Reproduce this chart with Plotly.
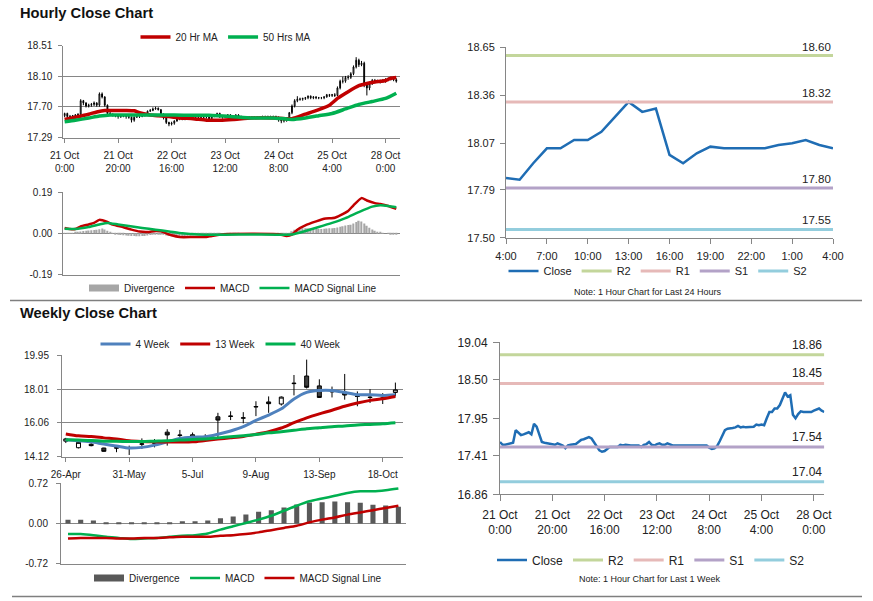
import plotly.graph_objects as go

# ---------------- hourly data: 21 Oct 0:00 .. 28 Oct 4:00 (125 bars) ----------------
hourly_close = [
    17.61, 17.57, 17.57, 17.58, 17.59, 17.60, 17.78, 17.75, 17.71, 17.72,
    17.73, 17.75, 17.72, 17.87, 17.83, 17.72, 17.61, 17.60, 17.59, 17.58,
    17.57, 17.57, 17.59, 17.57, 17.56, 17.52, 17.56, 17.57, 17.57, 17.58,
    17.61, 17.64, 17.65, 17.67, 17.68, 17.66, 17.60, 17.55, 17.49, 17.47,
    17.48, 17.51, 17.54, 17.54, 17.54, 17.54, 17.57, 17.56, 17.57, 17.56,
    17.56, 17.56, 17.56, 17.56, 17.54, 17.57, 17.58, 17.61, 17.57, 17.56,
    17.58, 17.59, 17.57, 17.57, 17.59, 17.57, 17.56, 17.56, 17.56, 17.56,
    17.56, 17.56, 17.56, 17.56, 17.57, 17.56, 17.57, 17.56, 17.57, 17.56,
    17.53, 17.51, 17.52, 17.55, 17.62, 17.71, 17.78, 17.80, 17.80, 17.81,
    17.82, 17.84, 17.82, 17.83, 17.82, 17.82, 17.82, 17.83, 17.86, 17.85,
    17.86, 17.85, 17.95, 18.04, 18.04, 18.09, 18.09, 18.14, 18.23, 18.32,
    18.26, 18.28, 18.00, 17.95, 18.01, 18.05, 18.04, 18.04, 18.04, 18.04,
    18.06, 18.07, 18.09, 18.06, 18.04,
]
hourly_open = [
    17.58, 17.61, 17.57, 17.57, 17.58, 17.59, 17.60, 17.78, 17.75, 17.71,
    17.72, 17.73, 17.75, 17.72, 17.87, 17.83, 17.72, 17.61, 17.60, 17.59,
    17.58, 17.57, 17.57, 17.59, 17.57, 17.56, 17.52, 17.56, 17.57, 17.57,
    17.58, 17.61, 17.64, 17.65, 17.67, 17.68, 17.66, 17.60, 17.55, 17.49,
    17.47, 17.48, 17.51, 17.54, 17.54, 17.54, 17.54, 17.57, 17.56, 17.57,
    17.56, 17.56, 17.56, 17.56, 17.56, 17.54, 17.57, 17.58, 17.61, 17.57,
    17.56, 17.58, 17.59, 17.57, 17.57, 17.59, 17.57, 17.56, 17.56, 17.56,
    17.56, 17.56, 17.56, 17.56, 17.56, 17.57, 17.56, 17.57, 17.56, 17.57,
    17.56, 17.53, 17.51, 17.52, 17.55, 17.62, 17.71, 17.78, 17.80, 17.80,
    17.81, 17.82, 17.84, 17.82, 17.83, 17.82, 17.82, 17.82, 17.83, 17.86,
    17.85, 17.86, 17.85, 17.95, 18.04, 18.04, 18.09, 18.09, 18.14, 18.23,
    18.32, 18.26, 18.28, 18.00, 17.95, 18.01, 18.05, 18.04, 18.04, 18.04,
    18.04, 18.06, 18.07, 18.09, 18.06,
]
hourly_high = [
    17.62, 17.62, 17.59, 17.59, 17.60, 17.61, 17.80, 17.79, 17.76, 17.74,
    17.75, 17.77, 17.76, 17.89, 17.89, 17.84, 17.73, 17.63, 17.61, 17.60,
    17.59, 17.59, 17.60, 17.60, 17.58, 17.57, 17.57, 17.58, 17.59, 17.59,
    17.62, 17.65, 17.67, 17.69, 17.70, 17.69, 17.67, 17.61, 17.56, 17.50,
    17.50, 17.52, 17.55, 17.56, 17.55, 17.56, 17.58, 17.58, 17.58, 17.58,
    17.57, 17.57, 17.57, 17.57, 17.57, 17.58, 17.59, 17.62, 17.62, 17.58,
    17.59, 17.60, 17.60, 17.58, 17.60, 17.60, 17.58, 17.57, 17.57, 17.57,
    17.57, 17.57, 17.57, 17.57, 17.58, 17.58, 17.58, 17.58, 17.58, 17.58,
    17.57, 17.54, 17.53, 17.56, 17.63, 17.73, 17.80, 17.84, 17.82, 17.82,
    17.83, 17.85, 17.85, 17.84, 17.84, 17.83, 17.83, 17.84, 17.87, 17.87,
    17.87, 17.88, 17.97, 18.06, 18.10, 18.11, 18.12, 18.16, 18.25, 18.36,
    18.34, 18.31, 18.30, 18.02, 18.03, 18.07, 18.07, 18.06, 18.06, 18.07,
    18.08, 18.09, 18.10, 18.10, 18.08,
]
hourly_low = [
    17.56, 17.55, 17.55, 17.56, 17.57, 17.58, 17.59, 17.72, 17.69, 17.69,
    17.70, 17.71, 17.70, 17.70, 17.81, 17.70, 17.59, 17.58, 17.57, 17.56,
    17.54, 17.55, 17.56, 17.54, 17.54, 17.49, 17.50, 17.55, 17.55, 17.56,
    17.57, 17.60, 17.63, 17.64, 17.66, 17.65, 17.58, 17.53, 17.47, 17.44,
    17.45, 17.46, 17.50, 17.52, 17.52, 17.52, 17.53, 17.54, 17.55, 17.54,
    17.54, 17.54, 17.54, 17.54, 17.52, 17.53, 17.56, 17.57, 17.55, 17.54,
    17.55, 17.57, 17.55, 17.55, 17.56, 17.55, 17.54, 17.54, 17.54, 17.54,
    17.54, 17.54, 17.54, 17.54, 17.55, 17.54, 17.55, 17.54, 17.55, 17.54,
    17.50, 17.48, 17.49, 17.50, 17.53, 17.60, 17.69, 17.76, 17.78, 17.78,
    17.79, 17.80, 17.80, 17.80, 17.80, 17.80, 17.80, 17.80, 17.82, 17.83,
    17.83, 17.83, 17.84, 17.93, 18.01, 18.02, 18.06, 18.07, 18.12, 18.21,
    18.23, 18.24, 17.96, 17.85, 17.92, 17.99, 18.02, 18.02, 18.01, 18.02,
    18.02, 18.04, 18.05, 18.04, 18.02,
]
hourly_divergence = [
    0.003, 0.002, 0.001, 0.002, 0.004, 0.006, 0.009, 0.011, 0.012, 0.013,
    0.014, 0.015, 0.016, 0.019, 0.022, 0.018, 0.012, 0.006, 0.001, -0.003,
    -0.006, -0.008, -0.009, -0.010, -0.011, -0.012, -0.012, -0.013, -0.013, -0.012,
    -0.012, -0.010, -0.008, -0.006, -0.004, -0.003, -0.004, -0.007, -0.010, -0.012,
    -0.013, -0.014, -0.014, -0.014, -0.013, -0.012, -0.011, -0.010, -0.009, -0.008,
    -0.007, -0.006, -0.005, -0.004, -0.003, -0.002, -0.001, 0.001, 0.001, 0.000,
    0.001, 0.002, 0.001, 0.001, 0.002, 0.001, 0.000, 0.000, 0.000, 0.000,
    0.000, 0.000, 0.000, 0.000, 0.000, 0.000, 0.000, 0.000, 0.000, 0.000,
    -0.002, -0.004, -0.005, -0.003, 0.003, 0.010, 0.016, 0.020, 0.022, 0.023,
    0.024, 0.024, 0.023, 0.022, 0.021, 0.020, 0.020, 0.021, 0.022, 0.023,
    0.024, 0.025, 0.027, 0.030, 0.033, 0.036, 0.038, 0.040, 0.045, 0.052,
    0.058, 0.055, 0.045, 0.035, 0.026, 0.018, 0.012, 0.007, 0.004, 0.002,
    0.000, -0.001, -0.002, -0.003, -0.005,
]
hourly_tick_idx = [0, 20, 40, 60, 80, 100, 120]
hourly_tick_labels = ["21 Oct<br>0:00", "21 Oct<br>20:00", "22 Oct<br>16:00",
                      "23 Oct<br>12:00", "24 Oct<br>8:00", "25 Oct<br>4:00",
                      "28 Oct<br>0:00"]

ma20_idx = [0, 4, 9, 12, 15, 18, 23, 26, 28, 32, 35, 39, 43, 48, 53, 58, 63, 70, 78, 85,
            90, 95, 99, 102, 106, 110, 113, 116, 120, 122, 124]
ma20_val = [17.53, 17.56, 17.60, 17.63, 17.65, 17.65, 17.65, 17.645, 17.62, 17.59,
            17.58, 17.57, 17.55, 17.54, 17.52, 17.52, 17.53, 17.55, 17.55, 17.54,
            17.60, 17.66, 17.72, 17.81, 17.90, 17.98, 18.01, 18.03, 18.05, 18.08, 18.09]
ma50_idx = [0, 4, 9, 13, 17, 23, 29, 35, 41, 48, 54, 62, 70, 78, 85, 90, 95, 100, 105,
            110, 115, 120, 124]
ma50_val = [17.50, 17.52, 17.55, 17.575, 17.59, 17.59, 17.59, 17.59, 17.59, 17.585,
            17.585, 17.57, 17.55, 17.55, 17.53, 17.55, 17.58, 17.61, 17.67, 17.73,
            17.77, 17.81, 17.88]

macd_idx = [0, 2, 4, 6, 9, 11, 13, 16, 18, 22, 25, 28, 31, 34, 36, 40, 43, 48, 53, 55,
            60, 70, 80, 83, 85, 87, 90, 94, 97, 101, 103, 106, 108, 111, 113, 116, 118,
            121, 124]
macd_val = [0.025, 0.020, 0.020, 0.032, 0.041, 0.048, 0.062, 0.052, 0.040, 0.028,
            0.017, 0.008, 0.006, 0.011, 0.009, -0.009, -0.017, -0.017, -0.017, -0.012,
            -0.004, -0.002, -0.004, -0.012, -0.006, 0.017, 0.037, 0.055, 0.067, 0.072,
            0.083, 0.103, 0.129, 0.162, 0.151, 0.139, 0.135, 0.126, 0.113]
signal_idx = [0, 4, 9, 13, 16, 20, 24, 29, 34, 39, 44, 50, 60, 70, 85, 90, 95, 100, 105,
              110, 115, 118, 121, 124]
signal_val = [0.021, 0.020, 0.029, 0.041, 0.048, 0.041, 0.034, 0.025, 0.017, 0.009,
              0.000, -0.005, -0.006, -0.005, -0.005, 0.011, 0.029, 0.048, 0.070, 0.098,
              0.123, 0.129, 0.126, 0.120]

# last 24 hours (25 Oct 4:00 .. 28 Oct 4:00) = last 25 hourly closes
last24_labels = ["4:00", "5:00", "6:00", "7:00", "8:00", "9:00", "10:00", "11:00",
                 "12:00", "13:00", "14:00", "15:00", "16:00", "17:00", "18:00",
                 "19:00", "20:00", "21:00", "22:00", "23:00", "0:00", "1:00",
                 "2:00", "3:00", "4:00"]
levels_names = ["R2", "R1", "S1", "S2"]
levels_24h = [18.60, 18.32, 17.80, 17.55]
levels_week = [18.86, 18.45, 17.54, 17.04]

# ---------------- weekly data ----------------
week_labels = ["26-Apr", "3-May", "10-May", "17-May", "24-May", "31-May", "7-Jun",
               "14-Jun", "21-Jun", "28-Jun", "5-Jul", "12-Jul", "19-Jul", "26-Jul",
               "2-Aug", "9-Aug", "16-Aug", "23-Aug", "30-Aug", "6-Sep", "13-Sep",
               "20-Sep", "27-Sep", "4-Oct", "11-Oct", "18-Oct", "25-Oct"]
weekly_open = [15.00, 14.62, 14.82, 14.60, 14.62, 14.58, 14.82, 14.88, 15.52, 15.33,
               15.37, 15.20, 16.41, 16.43, 16.33, 16.98, 17.27, 17.15, 18.33, 18.77,
               18.20, 17.88, 17.84, 17.60, 17.55, 17.50, 17.82]
weekly_close = [15.13, 14.93, 14.74, 14.41, 14.60, 14.62, 14.84, 14.90, 15.36, 15.35,
                15.21, 15.23, 16.22, 16.45, 16.35, 17.00, 17.17, 17.55, 18.35, 18.12,
                17.53, 17.86, 17.67, 17.59, 17.53, 17.49, 17.97]
weekly_high = [15.19, 14.95, 14.88, 14.62, 14.74, 14.74, 15.16, 15.12, 15.69, 15.65,
               15.50, 15.40, 16.64, 16.73, 16.68, 17.31, 17.59, 17.59, 18.83, 19.72,
               18.58, 18.16, 18.89, 17.88, 18.01, 17.78, 18.39]
weekly_low = [14.89, 14.58, 14.70, 14.39, 14.36, 14.20, 14.55, 14.64, 14.74, 15.12,
              15.02, 15.02, 15.21, 16.22, 16.03, 16.45, 16.64, 17.06, 17.65, 18.05,
              17.50, 17.53, 17.40, 17.02, 17.21, 17.15, 17.59]
weekly_ma4 = [15.08, 15.02, 14.96, 14.83, 14.72, 14.60, 14.64, 14.77, 14.96, 15.16,
              15.23, 15.25, 15.40, 15.59, 15.84, 16.20, 16.51, 16.87, 17.44, 17.82,
              17.93, 17.93, 17.82, 17.69, 17.69, 17.65, 17.69]
weekly_ma13 = [15.42, 15.31, 15.27, 15.19, 15.12, 15.02, 14.98, 14.96, 14.95, 14.95,
               14.96, 15.04, 15.12, 15.19, 15.27, 15.40, 15.55, 15.76, 16.07, 16.35,
               16.58, 16.79, 17.02, 17.21, 17.36, 17.46, 17.59]
weekly_ma40 = [15.08, 15.06, 15.04, 15.00, 14.99, 14.98, 14.98, 15.00, 15.02, 15.06,
               15.10, 15.12, 15.19, 15.25, 15.31, 15.38, 15.48, 15.55, 15.63, 15.72,
               15.78, 15.84, 15.88, 15.94, 15.97, 16.01, 16.07]
weekly_macd = [-0.19, -0.19, -0.21, -0.24, -0.26, -0.28, -0.27, -0.26, -0.24, -0.22,
               -0.21, -0.18, -0.11, -0.05, 0.01, 0.07, 0.14, 0.23, 0.32, 0.40,
               0.45, 0.50, 0.55, 0.58, 0.58, 0.60, 0.63]
weekly_signal = [-0.27, -0.26, -0.26, -0.26, -0.27, -0.27, -0.26, -0.26, -0.25, -0.24,
                 -0.24, -0.24, -0.22, -0.21, -0.19, -0.16, -0.12, -0.08, -0.04, 0.02,
                 0.07, 0.11, 0.16, 0.20, 0.24, 0.28, 0.32]
weekly_div = [0.066, 0.066, 0.054, 0.024, 0.024, 0.006, 0.024, 0.006, 0.024, 0.042,
              0.042, 0.054, 0.096, 0.126, 0.162, 0.21, 0.24, 0.288, 0.342, 0.378,
              0.384, 0.396, 0.384, 0.372, 0.336, 0.324, 0.30]

# ---------------- styling ----------------
W, H = 873, 601
FONT = "Liberation Sans, Arial, sans-serif"
GRID = "#868686"
RED = "#c00000"
GREEN = "#00b050"
BLUE4 = "#4f81bd"
CLOSE = "#1f6db4"
LEVEL_COLORS = ["#c3d69b", "#e6b9b8", "#b3a2c7", "#93cddd"]


def px_x(p):
    return p / W


def px_y(p):
    return 1 - p / H


hour_idx = list(range(len(hourly_close)))
last24_close = hourly_close[len(hourly_close) - len(last24_labels):]
last24_idx = list(range(len(last24_close)))
week_idx = list(range(len(week_labels)))

fig = go.Figure()

# ---- Panel 1: hourly candles ----
fig.add_trace(go.Candlestick(
    x=hour_idx, open=hourly_open, high=hourly_high, low=hourly_low, close=hourly_close,
    xaxis="x", yaxis="y", showlegend=False, hoverinfo="skip", whiskerwidth=0,
    increasing=dict(line=dict(color="black", width=1), fillcolor="white"),
    decreasing=dict(line=dict(color="black", width=1), fillcolor="black")))
fig.add_trace(go.Scatter(x=ma20_idx, y=ma20_val, mode="lines", name="20 Hr MA",
                         line=dict(color=RED, width=3.5, shape="spline", smoothing=0.5),
                         xaxis="x", yaxis="y", legend="legend"))
fig.add_trace(go.Scatter(x=ma50_idx, y=ma50_val, mode="lines", name="50 Hrs MA",
                         line=dict(color=GREEN, width=3.5, shape="spline", smoothing=0.5),
                         xaxis="x", yaxis="y", legend="legend"))

# ---- Panel 2: hourly MACD ----
fig.add_trace(go.Bar(x=hour_idx, y=hourly_divergence, width=0.55, marker_color="#a6a6a6",
                     marker_line_width=0, showlegend=False, xaxis="x2", yaxis="y2"))
fig.add_trace(go.Scatter(x=[None], y=[None], mode="lines", name="Divergence",
                         line=dict(color="#a6a6a6", width=7), xaxis="x2", yaxis="y2",
                         legend="legend2"))
fig.add_trace(go.Scatter(x=macd_idx, y=macd_val, mode="lines", name="MACD",
                         line=dict(color=RED, width=2.5, shape="spline", smoothing=0.5),
                         xaxis="x2", yaxis="y2", legend="legend2"))
fig.add_trace(go.Scatter(x=signal_idx, y=signal_val, mode="lines", name="MACD Signal Line",
                         line=dict(color=GREEN, width=2.5, shape="spline", smoothing=0.5),
                         xaxis="x2", yaxis="y2", legend="legend2"))

# ---- Panel 3: last 24 hours ----
fig.add_trace(go.Scatter(x=last24_idx, y=last24_close, mode="lines", name="Close",
                         line=dict(color=CLOSE, width=2.5), xaxis="x3", yaxis="y3",
                         legend="legend3"))
for nm, lv, col in zip(levels_names, levels_24h, LEVEL_COLORS):
    fig.add_trace(go.Scatter(x=[last24_idx[0], last24_idx[-1]], y=[lv, lv], mode="lines",
                             name=nm, line=dict(color=col, width=3), xaxis="x3",
                             yaxis="y3", legend="legend3"))
    fig.add_annotation(x=last24_idx[-1], y=lv, xref="x3", yref="y3", text=f"{lv:.2f}",
                       showarrow=False, xanchor="right", yanchor="bottom", yshift=1,
                       font=dict(family=FONT, size=11.5, color="#222"))

# ---- Panel 4: weekly candles ----
fig.add_trace(go.Candlestick(
    x=week_idx, open=weekly_open, high=weekly_high, low=weekly_low, close=weekly_close,
    xaxis="x4", yaxis="y4", showlegend=False, hoverinfo="skip", whiskerwidth=0,
    increasing=dict(line=dict(color="black", width=1), fillcolor="white"),
    decreasing=dict(line=dict(color="black", width=1), fillcolor="#404040")))
fig.add_trace(go.Scatter(x=week_idx, y=weekly_ma4, mode="lines", name="4 Week",
                         line=dict(color=BLUE4, width=3, shape="spline", smoothing=0.8),
                         xaxis="x4", yaxis="y4", legend="legend4"))
fig.add_trace(go.Scatter(x=week_idx, y=weekly_ma13, mode="lines", name="13 Week",
                         line=dict(color=RED, width=3, shape="spline", smoothing=0.8),
                         xaxis="x4", yaxis="y4", legend="legend4"))
fig.add_trace(go.Scatter(x=week_idx, y=weekly_ma40, mode="lines", name="40 Week",
                         line=dict(color=GREEN, width=3, shape="spline", smoothing=0.8),
                         xaxis="x4", yaxis="y4", legend="legend4"))

# ---- Panel 5: weekly MACD ----
fig.add_trace(go.Bar(x=week_idx, y=weekly_div, width=0.4, marker_color="#595959",
                     marker_line_width=0, showlegend=False, xaxis="x5", yaxis="y5"))
fig.add_trace(go.Scatter(x=[None], y=[None], mode="lines", name="Divergence",
                         line=dict(color="#595959", width=7), xaxis="x5", yaxis="y5",
                         legend="legend5"))
fig.add_trace(go.Scatter(x=week_idx, y=weekly_macd, mode="lines", name="MACD",
                         line=dict(color=GREEN, width=2.5, shape="spline", smoothing=0.8),
                         xaxis="x5", yaxis="y5", legend="legend5"))
fig.add_trace(go.Scatter(x=week_idx, y=weekly_signal, mode="lines", name="MACD Signal Line",
                         line=dict(color=RED, width=2.5, shape="spline", smoothing=0.8),
                         xaxis="x5", yaxis="y5", legend="legend5"))

# ---- Panel 6: last week hourly close ----
fig.add_trace(go.Scatter(x=hour_idx, y=hourly_close, mode="lines", name="Close",
                         line=dict(color=CLOSE, width=2.5), xaxis="x6", yaxis="y6",
                         legend="legend6"))
for nm, lv, col in zip(levels_names, levels_week, LEVEL_COLORS):
    fig.add_trace(go.Scatter(x=[hour_idx[0], hour_idx[-1]], y=[lv, lv], mode="lines",
                             name=nm, line=dict(color=col, width=3), xaxis="x6",
                             yaxis="y6", legend="legend6"))
    fig.add_annotation(x=hour_idx[-1], y=lv, xref="x6", yref="y6", text=f"{lv:.2f}",
                       showarrow=False, xanchor="right", yanchor="bottom", yshift=1,
                       font=dict(family=FONT, size=12, color="#222"))


# ---------------- axes ----------------
def yax(domain, rng, vals, size, grid, ticklen=4, standoff=4):
    return dict(domain=domain, range=rng, tickmode="array", tickvals=vals,
                ticktext=[f"{v:.2f}" for v in vals], showgrid=grid, gridcolor=GRID,
                gridwidth=1, zeroline=False, showline=True, linecolor=GRID, linewidth=1,
                ticks="outside", ticklen=ticklen, tickcolor=GRID, ticklabelstandoff=standoff,
                tickfont=dict(family=FONT, size=size, color="#222"), fixedrange=True,
                automargin=False)


def xax(domain, rng, anchor, vals=None, text=None, size=10, ticklen=4, standoff=4):
    d = dict(domain=domain, range=rng, anchor=anchor, showgrid=False, zeroline=False,
             showline=True, linecolor=GRID, linewidth=1, fixedrange=True,
             rangeslider=dict(visible=False), automargin=False)
    if vals is None:
        d.update(showticklabels=False, ticks="")
    else:
        d.update(tickmode="array", tickvals=vals, ticktext=text, ticks="outside",
                 ticklen=ticklen, tickcolor=GRID, ticklabelstandoff=standoff,
                 tickfont=dict(family=FONT, size=size, color="#222"), tickangle=0)
    return d


left_dom = [px_x(63.3), px_x(399.5)]
fig.update_layout(
    xaxis=xax(left_dom, [-0.5, 125.2], "y", hourly_tick_idx, hourly_tick_labels, 10),
    yaxis=yax([px_y(137.7), px_y(45.7)], [17.287, 18.513], [17.29, 17.70, 18.10, 18.51], 10, True),
    xaxis2=xax(left_dom, [-0.5, 125.2], "y2"),
    yaxis2=yax([px_y(275), px_y(191.7)], [-0.1915, 0.1915], [-0.19, 0.00, 0.19], 10, True),
    xaxis3=xax([px_x(506), px_x(833)], [0, 24], "y3", last24_idx[::3], last24_labels[::3], 11,
               ticklen=5, standoff=3),
    yaxis3=yax([px_y(237.7), px_y(47.3)], [17.50, 18.65], [17.50, 17.79, 18.07, 18.36, 18.65], 11,
               False, ticklen=5, standoff=3),
    xaxis4=xax([px_x(62), px_x(403)], [-0.3, 26.6], "y4", week_idx[::5], week_labels[::5], 10),
    yaxis4=yax([px_y(456.7), px_y(355.3)], [14.10, 19.97], [14.12, 16.06, 18.01, 19.95], 10, True,
               standoff=6),
    xaxis5=xax([px_x(61), px_x(406)], [-0.55, 26.6], "y5"),
    yaxis5=yax([px_y(563.7), px_y(483.3)], [-0.725, 0.725], [-0.72, 0.00, 0.72], 10, True,
               standoff=6),
    xaxis6=xax([px_x(500), px_x(824.3)], [0, 124], "y6", hourly_tick_idx, hourly_tick_labels, 12,
               ticklen=6, standoff=3),
    yaxis6=yax([px_y(494.3), px_y(342.3)], [16.86, 19.04], [16.86, 17.41, 17.95, 18.50, 19.04], 12,
               False, ticklen=6, standoff=3),
)
for i in range(2, 7):
    fig.layout[f"yaxis{i}"].anchor = f"x{i}"
fig.layout.yaxis.anchor = "x"


def leg(xc, yc, size):
    return dict(x=px_x(xc), y=px_y(yc), xref="container", yref="container",
                xanchor="center", yanchor="middle",
                orientation="h", bgcolor="rgba(0,0,0,0)", borderwidth=0,
                font=dict(family=FONT, size=size, color="#222"), itemwidth=30,
                traceorder="normal")


fig.update_layout(
    legend=leg(226, 37, 10),
    legend2=leg(233, 288, 10),
    legend3=leg(658, 271, 11),
    legend4=leg(221, 344, 10),
    legend5=leg(238, 578, 10),
    legend6=leg(651, 560, 12),
)

# titles / notes
fig.add_annotation(x=px_x(18), y=px_y(13), xref="paper", yref="paper", showarrow=False,
                   xanchor="left", yanchor="middle", text="<b>Hourly Close Chart</b>",
                   font=dict(family=FONT, size=14.7, color="#111"))
fig.add_annotation(x=px_x(18), y=px_y(313), xref="paper", yref="paper", showarrow=False,
                   xanchor="left", yanchor="middle", text="<b>Weekly Close Chart</b>",
                   font=dict(family=FONT, size=14.7, color="#111"))
fig.add_annotation(x=px_x(648), y=px_y(292), xref="paper", yref="paper", showarrow=False,
                   xanchor="center", yanchor="middle", text="Note: 1 Hour Chart for Last 24 Hours",
                   font=dict(family=FONT, size=9, color="#222"))
fig.add_annotation(x=px_x(649), y=px_y(579), xref="paper", yref="paper", showarrow=False,
                   xanchor="center", yanchor="middle", text="Note: 1 Hour Chart for Last 1 Week",
                   font=dict(family=FONT, size=9, color="#222"))

# separators
for yy, x0 in [(300.5, 10), (596.5, 12)]:
    fig.add_shape(type="line", xref="paper", yref="paper", x0=px_x(x0), x1=px_x(862),
                  y0=px_y(yy), y1=px_y(yy), line=dict(color="#7f7f7f", width=1.5))

fig.update_layout(width=W, height=H, margin=dict(l=0, r=0, t=0, b=0, autoexpand=False),
                  paper_bgcolor="white", plot_bgcolor="white", boxgap=0.55,
                  barmode="overlay", hovermode=False, dragmode=False,
                  font=dict(family=FONT, color="#222"))

# let the 873x601 figure fill the page exactly (no default body margin)
fig.write_html("out.html", config={"displayModeBar": False},
               post_script="document.body.style.margin='0px';")
